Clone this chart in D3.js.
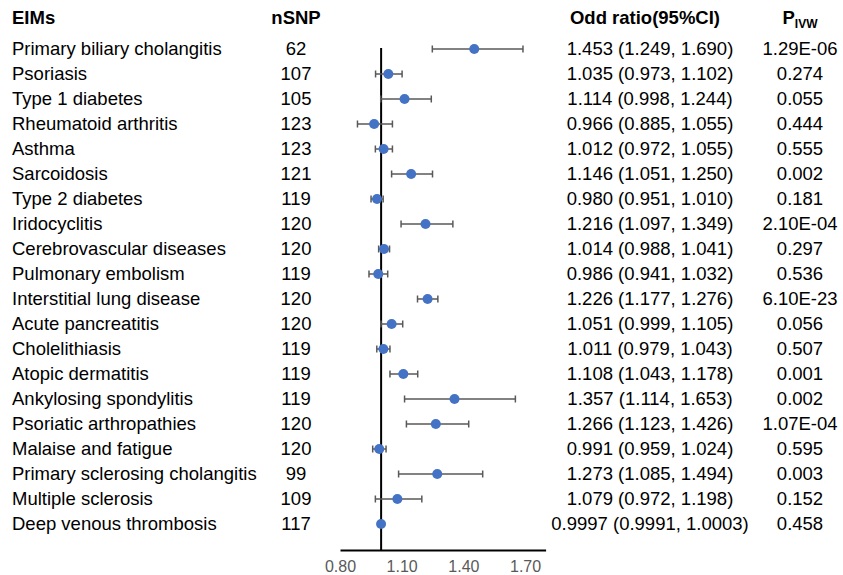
<!DOCTYPE html>
<html>
<head>
<meta charset="utf-8">
<script src="https://cdn.jsdelivr.net/npm/d3@7"></script>
<style>
    body { margin: 0; background: #fff; }
    text { font-family: "Liberation Sans", Arial, sans-serif; fill: #000; }
    .axis text { fill: #595959; font-size: 16px; }
    .axis path { stroke: #000; stroke-width: 2; }
</style>
</head>
<body>
<div id="chart"></div>
<script>
// data
const eims = ["Primary biliary cholangitis", "Psoriasis", "Type 1 diabetes", "Rheumatoid arthritis",
    "Asthma", "Sarcoidosis", "Type 2 diabetes", "Iridocyclitis", "Cerebrovascular diseases",
    "Pulmonary embolism", "Interstitial lung disease", "Acute pancreatitis", "Cholelithiasis",
    "Atopic dermatitis", "Ankylosing spondylitis", "Psoriatic arthropathies", "Malaise and fatigue",
    "Primary sclerosing cholangitis", "Multiple sclerosis", "Deep venous thrombosis"];
const nSNP = [62, 107, 105, 123, 123, 121, 119, 120, 120, 119, 120, 120, 119, 119, 119, 120, 120, 99, 109, 117];
const or = [1.453, 1.035, 1.114, 0.966, 1.012, 1.146, 0.980, 1.216, 1.014, 0.986, 1.226, 1.051, 1.011,
    1.108, 1.357, 1.266, 0.991, 1.273, 1.079, 0.9997];
const lower = [1.249, 0.973, 0.998, 0.885, 0.972, 1.051, 0.951, 1.097, 0.988, 0.941, 1.177, 0.999, 0.979,
    1.043, 1.114, 1.123, 0.959, 1.085, 0.972, 0.9991];
const upper = [1.690, 1.102, 1.244, 1.055, 1.055, 1.250, 1.010, 1.349, 1.041, 1.032, 1.276, 1.105, 1.043,
    1.178, 1.653, 1.426, 1.024, 1.494, 1.198, 1.0003];
const orLabels = ["1.453 (1.249, 1.690)", "1.035 (0.973, 1.102)", "1.114 (0.998, 1.244)", "0.966 (0.885, 1.055)",
    "1.012 (0.972, 1.055)", "1.146 (1.051, 1.250)", "0.980 (0.951, 1.010)", "1.216 (1.097, 1.349)",
    "1.014 (0.988, 1.041)", "0.986 (0.941, 1.032)", "1.226 (1.177, 1.276)", "1.051 (0.999, 1.105)",
    "1.011 (0.979, 1.043)", "1.108 (1.043, 1.178)", "1.357 (1.114, 1.653)", "1.266 (1.123, 1.426)",
    "0.991 (0.959, 1.024)", "1.273 (1.085, 1.494)", "1.079 (0.972, 1.198)", "0.9997 (0.9991, 1.0003)"];
const pIVW = ["1.29E-06", "0.274", "0.055", "0.444", "0.555", "0.002", "0.181", "2.10E-04", "0.297",
    "0.536", "6.10E-23", "0.056", "0.507", "0.001", "0.002", "1.07E-04", "0.595", "0.003", "0.152", "0.458"];
const xTicks = [0.80, 1.10, 1.40, 1.70];

const width = 843, height = 575;

const svg = d3.select("#chart").append("svg")
    .attr("width", width)
    .attr("height", height);

const rows = eims.map((d, i) => ({
    name: d, n: nSNP[i], or: or[i], lo: lower[i], hi: upper[i], label: orLabels[i], p: pIVW[i]
}));

// scales
const x = d3.scaleLinear().domain([0.8, 1.8]).range([340, 545.6]);
const y = d3.scaleBand().domain(d3.range(rows.length)).range([36.5, 536.5]);
const yc = i => y(i) + y.bandwidth() / 2;

// headers
const header = svg.append("g").attr("font-weight", "bold").attr("font-size", "18.5px");
header.append("text").attr("x", 12).attr("y", 18).attr("dy", "0.35em").text("EIMs");
header.append("text").attr("x", 296).attr("y", 18).attr("dy", "0.35em").attr("text-anchor", "middle").text("nSNP");
header.append("text").attr("x", 645).attr("y", 18).attr("dy", "0.35em").attr("text-anchor", "middle").text("Odd ratio(95%CI)");
const pHead = header.append("text").attr("x", 800).attr("y", 18).attr("dy", "0.35em").attr("text-anchor", "middle");
pHead.append("tspan").text("P");
pHead.append("tspan").attr("font-size", "12px").attr("dy", "4").text("IVW");

// columns of text
const body = svg.append("g").attr("font-size", "18.5px");

body.selectAll(".name").data(rows).join("text")
    .attr("class", "name")
    .attr("x", 12).attr("y", (d, i) => yc(i)).attr("dy", "0.35em")
    .text(d => d.name);

body.selectAll(".n").data(rows).join("text")
    .attr("class", "n")
    .attr("x", 296).attr("y", (d, i) => yc(i)).attr("dy", "0.35em")
    .attr("text-anchor", "middle")
    .text(d => d.n);

body.selectAll(".or").data(rows).join("text")
    .attr("class", "or")
    .attr("x", 650).attr("y", (d, i) => yc(i)).attr("dy", "0.35em")
    .attr("text-anchor", "middle")
    .text(d => d.label);

body.selectAll(".p").data(rows).join("text")
    .attr("class", "p")
    .attr("x", 800).attr("y", (d, i) => yc(i)).attr("dy", "0.35em")
    .attr("text-anchor", "middle")
    .text(d => d.p);

// axis
const axisY = 550;
svg.append("g")
    .attr("class", "axis")
    .attr("transform", "translate(0," + axisY + ")")
    .call(d3.axisBottom(x).tickValues(xTicks).tickFormat(d3.format(".2f")).tickSize(0).tickSizeOuter(0).tickPadding(11));

// reference line at OR = 1
svg.append("line")
    .attr("x1", x(1)).attr("x2", x(1))
    .attr("y1", yc(0) - 1).attr("y2", axisY)
    .attr("stroke", "#000").attr("stroke-width", 2);

// confidence intervals
const ci = svg.append("g").attr("stroke", "#595959").attr("stroke-width", 1.5);
ci.selectAll(".ci").data(rows).join("line")
    .attr("x1", d => x(d.lo)).attr("x2", d => x(d.hi))
    .attr("y1", (d, i) => yc(i)).attr("y2", (d, i) => yc(i));
ci.selectAll(".capL").data(rows).join("line")
    .attr("x1", d => x(d.lo)).attr("x2", d => x(d.lo))
    .attr("y1", (d, i) => yc(i) - 3.5).attr("y2", (d, i) => yc(i) + 3.5);
ci.selectAll(".capR").data(rows).join("line")
    .attr("x1", d => x(d.hi)).attr("x2", d => x(d.hi))
    .attr("y1", (d, i) => yc(i) - 3.5).attr("y2", (d, i) => yc(i) + 3.5);

// points
svg.selectAll(".dot").data(rows).join("circle")
    .attr("cx", d => x(d.or))
    .attr("cy", (d, i) => yc(i))
    .attr("r", 5)
    .attr("fill", "#4472C4");
</script>
</body>
</html>
